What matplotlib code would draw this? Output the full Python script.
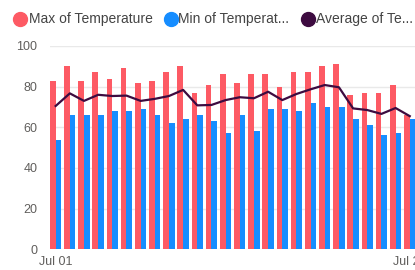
import numpy as np
import matplotlib
matplotlib.use('Agg')
import matplotlib.pyplot as plt
from matplotlib.lines import Line2D

plt.rcParams['font.family'] = ['Liberation Sans', 'DejaVu Sans']

days = ['Jul %02d' % d for d in range(1, 27)]
max_temp = [83, 90, 83, 87, 84, 89, 82, 83, 87, 90, 77, 81, 86,
            82, 86, 86, 80, 87, 87, 90, 91, 76, 77, 77, 81, 66]
min_temp = [54, 66, 66, 66, 68, 68, 69, 66, 62, 64, 66, 63, 57,
            66, 58, 69, 69, 68, 72, 70, 70, 64, 61, 56, 57, 64]
avg_temp = [70.5, 76.7, 73, 76, 75.4, 75.6, 73, 74, 75.4, 78.4, 70.8, 71, 73.4,
            74.8, 74.3, 77.5, 73.4, 76.4, 78.7, 80.8, 79.7, 69.3, 68.5, 66.6, 69.5, 65.5]
shown_ticks = ['Jul 01', 'Jul 26']
series_names = ['Max of Temperature', 'Min of Temperat...', 'Average of Te...']

RED = '#FD5A64'
BLUE = '#168DFF'
PURPLE = '#3D0B40'

W, H = 415, 270
fig = plt.figure(figsize=(W / 100, H / 100), dpi=100)
ax = fig.add_axes([50 / W, 20.7 / H, 365 / W, 203.3 / H])

x = np.arange(len(days))
bw = 0.40
ax.bar(x - bw / 2, max_temp, width=bw, color=RED, zorder=2)
ax.bar(x + bw / 2, min_temp, width=bw, color=BLUE, zorder=2)
ax.plot(x, avg_temp, color=PURPLE, lw=1.6, zorder=3, solid_joinstyle='round')

ax.set_xlim(-0.4, 25.37)
ax.set_ylim(0, 100)
ax.set_yticks(np.arange(0, 101, 20))
ax.yaxis.grid(True, color='#E9E9E9', lw=1)
ax.set_axisbelow(True)
for s in ax.spines.values():
    s.set_visible(False)

tick_pos = [days.index(t) for t in shown_ticks]
ax.set_xticks(tick_pos, shown_ticks)
ax.tick_params(axis='both', length=0, labelsize=9, labelcolor='#605E5C')
ax.tick_params(axis='y', pad=9)
ax.tick_params(axis='x', pad=5)

# legend drawn by hand, like the Power BI header
leg_y = 1 - 18.5 / H
for cx, tx, col, name in zip([20, 170.5, 307.5], [29, 178, 316],
                             [RED, BLUE, PURPLE], series_names):
    fig.add_artist(Line2D([cx / W], [leg_y], marker='o', markersize=10,
                          color=col, transform=fig.transFigure, lw=0))
    fig.text(tx / W, leg_y, name, fontsize=10, color='#444444', va='center', ha='left')

fig.savefig('out.png', dpi=100)
